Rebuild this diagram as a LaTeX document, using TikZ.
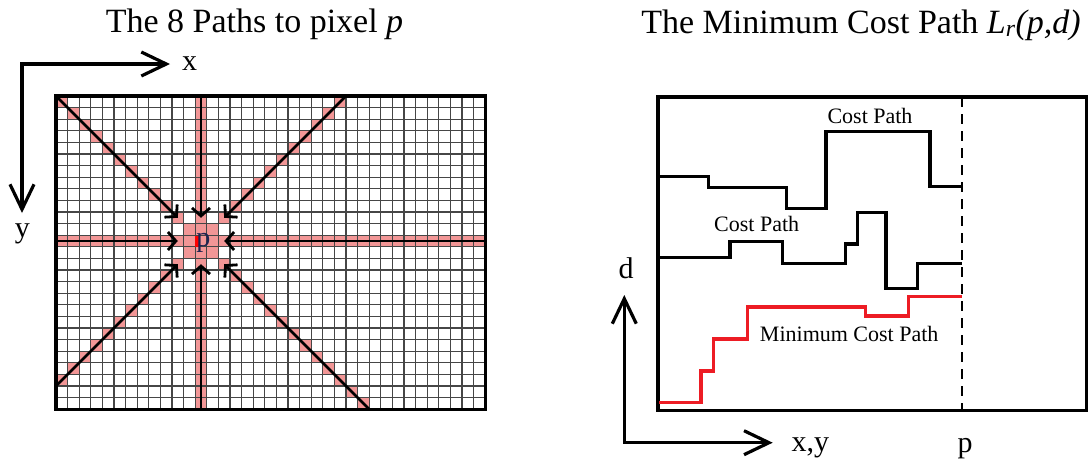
\documentclass[tikz,border=0pt]{standalone}
\usepackage{fontspec}
\setmainfont{Liberation Serif}
\usepackage{xcolor}
\usepackage{tikz}
\usetikzlibrary{arrows.meta}

\definecolor{pathpink}{RGB}{242,150,150}
\definecolor{costred}{RGB}{237,28,36}
\definecolor{gridgray}{RGB}{70,70,70}
\definecolor{pixink}{RGB}{30,35,80}

\begin{document}
\begin{tikzpicture}[x=1pt, y=-1pt,
            title_text/.style={font=\fontsize{34}{40}\selectfont, anchor=base},
            axis_text/.style={font=\fontsize{30}{36}\selectfont, anchor=base},
            path_text/.style={font=\fontsize{22}{26}\selectfont, anchor=base},
            axis_arrow/.style={line width=3.2pt, line join=miter,
            {Straight Barb[length=25pt, width=24pt]}-{Straight Barb[length=25pt, width=24pt]}},
            in_arrow/.style={line width=2.8pt, -{Straight Barb[length=8pt, width=18pt]}},
            cost_line/.style={line width=3.4pt},
            min_line/.style={line width=3.4pt, costred},
            grid_line/.style={gridgray, line width=1.3pt},
            p_line/.style={line width=1.3pt, dash pattern=on 10pt off 7pt}
        ]
            \useasboundingbox (0,0) rectangle (1088,461);

            % Titles
            \node[title_text] (title_left) at (254.5,32) {The 8 Paths to pixel \textit{p}};
            \node[title_text] (title_right) at (861,33) {The Minimum Cost Path \textit{L\textsubscript{r}(p,d)}};

            % Image axes (left)
            \coordinate (img_o) at (22,64);
            \coordinate (img_x) at (170,64);
            \coordinate (img_y) at (22,213);
            \draw[axis_arrow] (img_y) -- (img_o) -- (img_x);
            \node[axis_text] (img_xlab) at (189.5,70) {x};
            \node[axis_text] (img_ylab) at (22.5,237) {y};

            % Pixel grid (one unit = one cell)
            \begin{scope}[shift={(56,96)}, x=11.6pt, y=-11.6pt]
                % cells on the 8 paths
                \fill[pathpink] (12,0) rectangle (13,27);
                \fill[pathpink] (0,12) rectangle (37,13);
                \fill[pathpink] (11,11) rectangle (14,14);
                \foreach \k in {0,...,10} {
                    \fill[pathpink] (\k,\k) rectangle ++(1,1);
                    \fill[pathpink] (24-\k,\k) rectangle ++(1,1);
                    \fill[pathpink] (\k,24-\k) rectangle ++(1,1);
                }
                \foreach \k in {14,...,26}
                    \fill[pathpink] (\k,\k) rectangle ++(1,1);

                \foreach \i in {1,...,36}
                    \draw[grid_line] (\i,0) -- (\i,27);
                \foreach \j in {1,...,26}
                    \draw[grid_line] (0,\j) -- (37,\j);
                \draw[line width=3.4pt] (0,0) rectangle (37,27);

                % pixel p
                \fill[red] (12,12.1) rectangle (12.45,13);
                \node[text=pixink, font=\fontsize{28}{32}\selectfont, anchor=base] (pix) at (12.7,13) {p};

                % the 8 paths
                \coordinate (sN) at (12.5,0);    \coordinate (eN) at (12.5,10.5);
                \coordinate (sS) at (12.5,27);   \coordinate (eS) at (12.5,14.5);
                \coordinate (sW) at (0,12.5);    \coordinate (eW) at (10.5,12.5);
                \coordinate (sE) at (37,12.5);   \coordinate (eE) at (14.5,12.5);
                \coordinate (sNW) at (0,0);      \coordinate (eNW) at (10.5,10.5);
                \coordinate (sNE) at (25,0);     \coordinate (eNE) at (14.5,10.5);
                \coordinate (sSW) at (0,25);     \coordinate (eSW) at (10.5,14.5);
                \coordinate (sSE) at (27,27);    \coordinate (eSE) at (14.5,14.5);
                \foreach \d in {N,S,W,E,NW,NE,SW,SE}
                    \draw[in_arrow] (s\d) -- (e\d);
            \end{scope}

            % Cost panel (right)
            \draw[line width=3.4pt] (658,97) rectangle (1086.5,410.7);
            \coordinate (p_top) at (962,97);
            \coordinate (p_bot) at (962,410.7);
            \draw[p_line] (p_top) -- (p_bot);

            \draw[cost_line] (658.7,176.7) -| (708.3,187.3) -| (786.7,208.3) -| (826,131.7)
                -| (930,186.7) -- (962,186.7);
            \draw[cost_line] (659,257.3) -| (730,241.3) -| (782.3,263.3) -| (845.7,244)
                -| (857.3,212.7) -| (886,288.7) -| (917.3,263.7) -- (962,263.7);
            \draw[min_line] (659,402.3) -| (701,371) -| (713.3,339) -| (747.3,307)
                -| (865.7,316) -| (908.3,296.7) -- (962,296.7);

            \node[path_text] (cost_top) at (870,123.3) {Cost Path};
            \node[path_text] (cost_mid) at (756.7,231.7) {Cost Path};
            \node[path_text] (cost_min) at (849.2,341.7) {Minimum Cost Path};

            % Disparity axes
            \coordinate (dsp_o) at (624.3,442.7);
            \coordinate (dsp_d) at (624.3,295);
            \coordinate (dsp_x) at (772.7,442.7);
            \draw[axis_arrow] (dsp_d) -- (dsp_o) -- (dsp_x);
            \node[axis_text] (dsp_dlab) at (626,278) {d};
            \node[axis_text, anchor=base west] (dsp_xlab) at (788,451.5) {x,y};
            \node[axis_text] (dsp_plab) at (965,452) {p};

        \end{tikzpicture}
\end{document}
